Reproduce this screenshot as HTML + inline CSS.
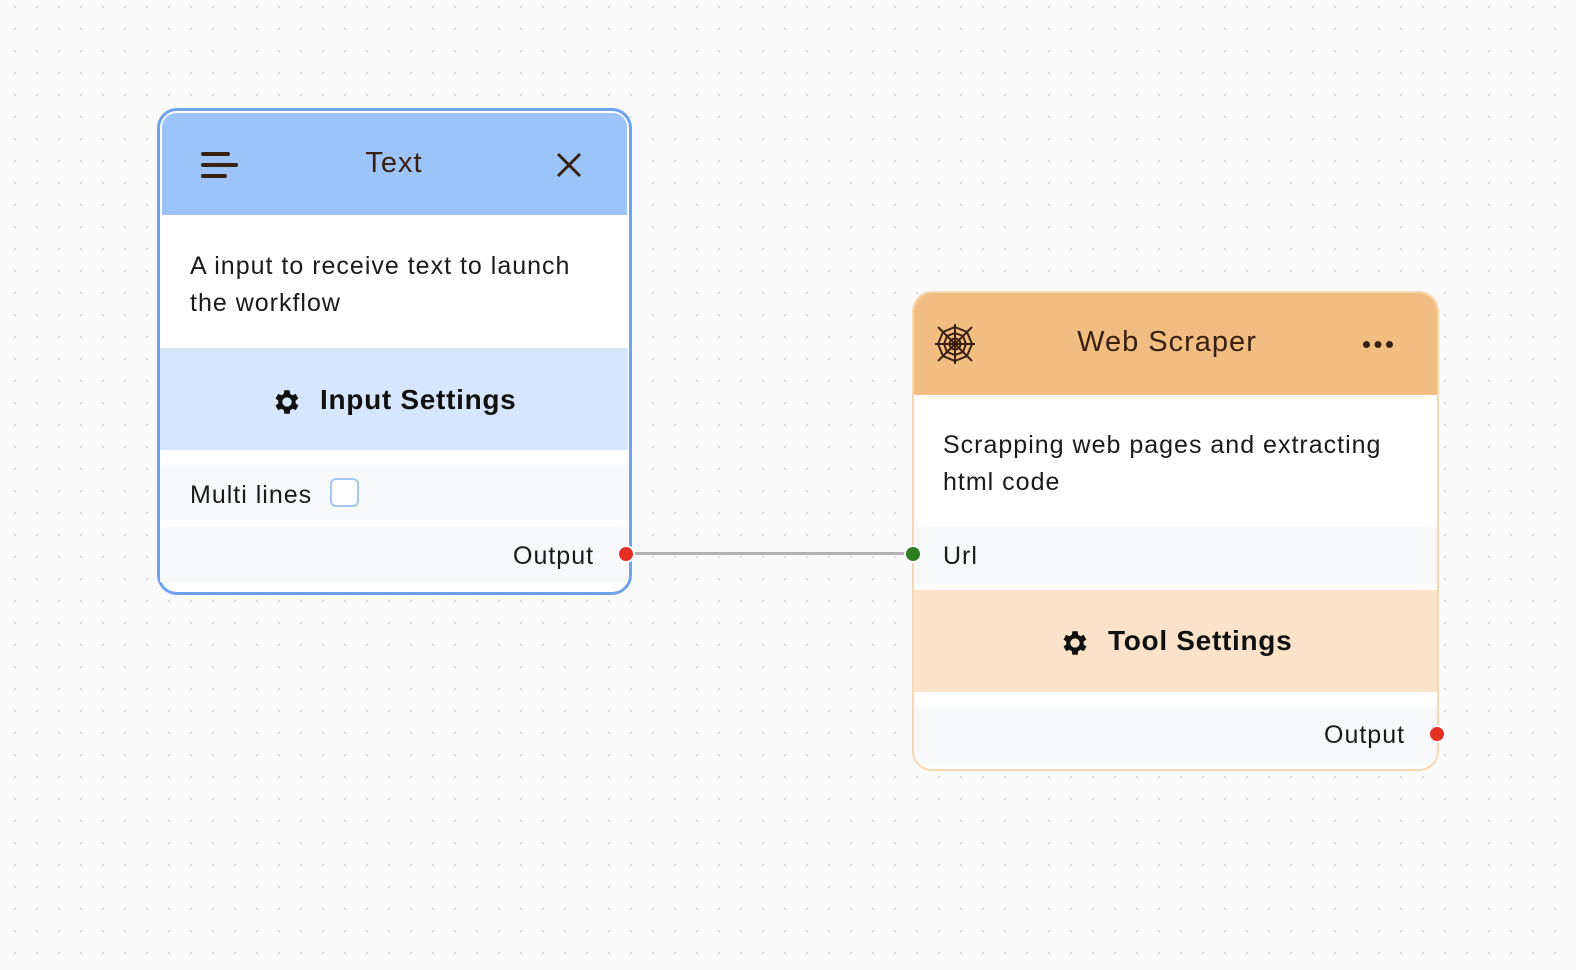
<!DOCTYPE html>
<html><head><meta charset="utf-8"><style>
*{box-sizing:border-box;margin:0;padding:0}
body{width:1576px;height:970px;overflow:hidden;background-color:#fafafa;
background-image:radial-gradient(circle,#dcdcdc 1px,transparent 1.3px);
background-size:22px 22px;background-position:4px -4px;
font-family:"Liberation Sans",sans-serif;position:relative}
.a{position:absolute}
.t{font-size:25px;letter-spacing:1px;color:#1a1a1a;line-height:37px}
</style></head><body>
<!-- Text node -->
<div class="a" style="left:157px;top:108px;width:475px;height:487px;border:3px solid #6fa2ef;border-radius:20px;background:#fff;overflow:hidden">
 <div class="a" style="left:2px;top:2px;right:2px;height:102px;background:#9dc4f8;border-radius:14px 14px 0 0"></div>
</div>
<svg class="a" style="left:198px;top:150px" width="42" height="30"><g stroke="#3a2010" stroke-width="4" stroke-linecap="round"><line x1="5" y1="4" x2="30" y2="4"/><line x1="5" y1="15" x2="38" y2="15"/><line x1="5" y1="26" x2="27" y2="26"/></g></svg>
<div class="a" style="left:160px;width:468px;top:147px;text-align:center;font-size:29px;letter-spacing:1px;color:#3a2010">Text</div>
<svg class="a" style="left:555px;top:152px" width="28" height="26"><g stroke="#3a2010" stroke-width="3"><line x1="3" y1="2" x2="25" y2="24"/><line x1="25" y1="2" x2="3" y2="24"/></g></svg>
<div class="a t" style="left:190px;top:248px">A input to receive text to launch<br>the workflow</div>
<div class="a" style="left:160px;top:348px;width:468px;height:102px;background:#d6e6fc"></div>
<svg class="a" style="left:271px;top:386px" width="32" height="32" viewBox="0 0 24 24"><path fill="#111" d="M19.4 13a7.5 7.5 0 0 0 0-2l2.1-1.6-2-3.5-2.5 1a7 7 0 0 0-1.7-1L15 3.2h-4l-.4 2.7a7 7 0 0 0-1.7 1l-2.5-1-2 3.5L6.5 11a7.5 7.5 0 0 0 0 2l-2.1 1.6 2 3.5 2.5-1a7 7 0 0 0 1.7 1l.4 2.7h4l.4-2.7a7 7 0 0 0 1.7-1l2.5 1 2-3.5zM13 15.5a3.5 3.5 0 1 1 0-7 3.5 3.5 0 0 1 0 7z" transform="translate(-1 0)"/></svg>
<div class="a" style="left:320px;top:384px;font-size:28px;letter-spacing:0.7px;font-weight:bold;color:#111">Input Settings</div>
<div class="a" style="left:160px;top:465px;width:468px;height:55px;background:#f8f9fb"></div>
<div class="a t" style="left:190px;top:477px">Multi lines</div>
<div class="a" style="left:330px;top:478px;width:29px;height:29px;border:2px solid #a5c6f5;border-radius:6px;background:#fff"></div>
<div class="a" style="left:160px;top:527px;width:468px;height:55px;background:#f8f9fb"></div>
<div class="a t" style="left:513px;top:538px">Output</div>
<!-- connector -->
<div class="a" style="left:630px;top:552px;width:280px;height:3px;background:#b2b2b6"></div>
<div class="a" style="left:617px;top:545px;width:18px;height:18px;border-radius:50%;background:#e63024;border:2px solid #fff"></div>
<div class="a" style="left:904px;top:545px;width:18px;height:18px;border-radius:50%;background:#2e7d22;border:2px solid #fff"></div>
<!-- Web Scraper node -->
<div class="a" style="left:912px;top:291px;width:527px;height:480px;border:2px solid #f8d8b0;border-radius:20px;background:#fff;overflow:hidden;z-index:-1">
 <div class="a" style="left:0;top:0;right:0;height:102px;background:#f2bd80"></div>
 <div class="a" style="left:0;top:234px;right:0;height:57px;background:#f8f9fb"></div>
 <div class="a" style="left:0;top:297px;right:0;height:102px;background:#fae3c9"></div>
 <div class="a" style="left:0;top:414px;right:0;height:58px;background:#f8f9fb"></div>
</div>
<svg class="a" style="left:933px;top:322px" width="44" height="44" viewBox="0 0 44 44"><g fill="none" stroke="#3a2010" stroke-width="2"><line x1="22" y1="2" x2="22" y2="42"/><line x1="2" y1="22" x2="42" y2="22"/><line x1="5" y1="5" x2="39" y2="39"/><line x1="39" y1="5" x2="5" y2="39"/><polygon points="22,5 34,10 39,22 34,34 22,39 10,34 5,22 10,10"/><polygon points="22,11 30,14 33,22 30,30 22,33 14,30 11,22 14,14"/><polygon points="22,16 26,18 28,22 26,26 22,28 18,26 16,22 18,18"/></g></svg>
<div class="a" style="left:913px;width:508px;top:326px;text-align:center;font-size:29px;letter-spacing:1px;color:#3a2010">Web Scraper</div>
<div class="a" style="left:1363px;top:341px;width:7px;height:7px;border-radius:50%;background:#3a2010;box-shadow:11.5px 0 0 #3a2010,23px 0 0 #3a2010"></div>
<div class="a t" style="left:943px;top:427px">Scrapping web pages and extracting<br>html code</div>
<div class="a t" style="left:943px;top:538px">Url</div>
<svg class="a" style="left:1059px;top:627px" width="32" height="32" viewBox="0 0 24 24"><path fill="#111" d="M19.4 13a7.5 7.5 0 0 0 0-2l2.1-1.6-2-3.5-2.5 1a7 7 0 0 0-1.7-1L15 3.2h-4l-.4 2.7a7 7 0 0 0-1.7 1l-2.5-1-2 3.5L6.5 11a7.5 7.5 0 0 0 0 2l-2.1 1.6 2 3.5 2.5-1a7 7 0 0 0 1.7 1l.4 2.7h4l.4-2.7a7 7 0 0 0 1.7-1l2.5 1 2-3.5zM13 15.5a3.5 3.5 0 1 1 0-7 3.5 3.5 0 0 1 0 7z" transform="translate(-1 0)"/></svg>
<div class="a" style="left:1108px;top:625px;font-size:28px;letter-spacing:0.7px;font-weight:bold;color:#111">Tool Settings</div>
<div class="a t" style="left:1324px;top:717px">Output</div>
<div class="a" style="left:1428px;top:725px;width:18px;height:18px;border-radius:50%;background:#e63024;border:2px solid #fff"></div>
</body></html>
